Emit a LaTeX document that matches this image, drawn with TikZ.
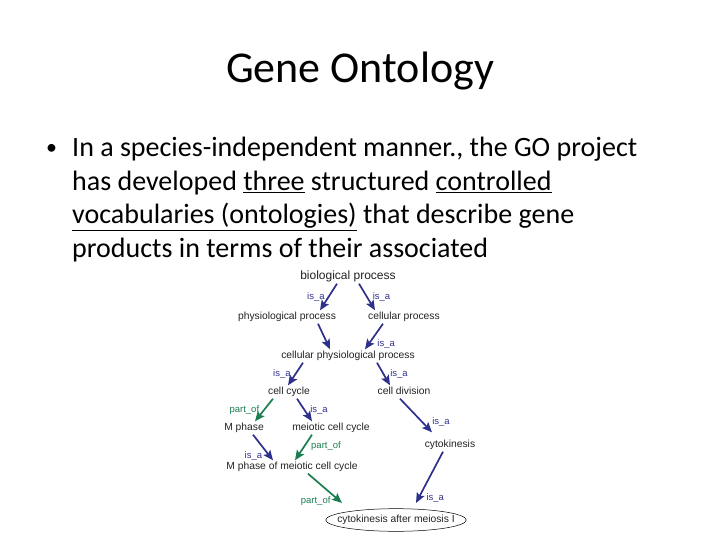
\documentclass[tikz,border=0pt]{standalone}
\usepackage{fontspec}
\setmainfont{Carlito}
\newfontfamily\arialfont{Liberation Sans}
\usetikzlibrary{arrows.meta, shapes.geometric}
\definecolor{isacol}{HTML}{2E318C}
\definecolor{partcol}{HTML}{1B7E4E}
\definecolor{termcol}{HTML}{222222}

\begin{document}
\begin{tikzpicture}[x=1pt, y=-1pt,
  term/.style={font=\arialfont\fontsize{10.3}{12}\selectfont, text=termcol,
    text height=7.5pt, text depth=2.5pt, inner sep=1.5pt},
  isa/.style={-{Stealth[length=10pt, width=8.5pt, inset=2pt]}, line width=1.7pt, draw=isacol},
  partof/.style={-{Stealth[length=10pt, width=8.5pt, inset=2pt]}, line width=1.7pt, draw=partcol},
  lbl/.style={font=\arialfont\fontsize{9.5}{11}\selectfont, inner sep=1pt},
  bullet/.style={font=\fontsize{28}{33}\selectfont, anchor=base west, inner sep=0pt},
]
\useasboundingbox (0,0) rectangle (720,540);

% Title and bullet text
\node[font=\fontsize{44}{52}\selectfont, anchor=base] (title) at (360,83) {Gene Ontology};
\node[bullet, font=\fontsize{22}{26}\selectfont] (dot) at (46,155) {•};
\node[bullet] (line1) at (72,157) {In a species-independent manner., the GO project};
\node[bullet] (line2) at (72,190.5) {has developed \underline{three} structured \underline{controlled}};
\node[bullet] (line3) at (72,224) {\underline{vocabularies (ontologies)} that describe gene};
\node[bullet] (line4) at (72,257) {products in terms of their associated};

% GO terms
\node[term, font=\arialfont\fontsize{12}{14}\selectfont, text height=9pt, text depth=3pt] (bio) at (348,276) {biological process};
\node[term] (phys) at (287,317) {physiological process};
\node[term] (cellproc) at (404,317) {cellular process};
\node[term] (cpp) at (348,356) {cellular physiological process};
\node[term] (cycle) at (289,392) {cell cycle};
\node[term] (division) at (404,392) {cell division};
\node[term] (mphase) at (244,428) {M phase};
\node[term] (meiotic) at (331,428) {meiotic cell cycle};
\node[term] (cytok) at (450,445) {cytokinesis};
\node[term] (mmeiotic) at (292,467) {M phase of meiotic cell cycle};
\node[term, draw=black, line width=0.5pt, ellipse, inner xsep=-9pt, inner ysep=3pt] (after) at (396,520) {cytokinesis after meiosis I};

% is_a / part_of links
\draw[isa] ([xshift=-11pt]bio.south) -- node[lbl, text=isacol, left=2pt] {is\_a} ([xshift=33pt]phys.north);
\draw[isa] ([xshift=11pt]bio.south) -- node[lbl, text=isacol, right=4pt] {is\_a} ([xshift=-29pt]cellproc.north);
\draw[isa] ([xshift=31pt]phys.south) -- ([xshift=-18pt]cpp.north);
\draw[isa] ([xshift=-21pt]cellproc.south) -- node[lbl, text=isacol, right=7pt, pos=0.8] {is\_a} ([xshift=17pt]cpp.north);
\draw[isa] ([xshift=-45pt]cpp.south) -- node[lbl, text=isacol, left=3pt] {is\_a} ([xshift=-1pt]cycle.north);
\draw[isa] ([xshift=29pt]cpp.south) -- node[lbl, text=isacol, right=5pt] {is\_a} ([xshift=-14pt]division.north);
\draw[partof] ([xshift=-16pt]cycle.south) -- node[lbl, text=partcol, left=3pt] {part\_of} ([xshift=11pt]mphase.north);
\draw[isa] ([xshift=8pt]cycle.south) -- node[lbl, text=isacol, right=4pt] {is\_a} ([xshift=-19pt]meiotic.north);
\draw[isa] ([xshift=-4pt]division.south) -- node[lbl, text=isacol, right=8pt, pos=0.7] {is\_a} ([xshift=-18pt,yshift=6pt]cytok.north);
\draw[isa] ([xshift=9pt]mphase.south) -- node[lbl, text=isacol, left=6pt, pos=0.85] {is\_a} ([xshift=-19pt]mmeiotic.north);
\draw[partof] ([xshift=-19pt]meiotic.south) -- node[lbl, text=partcol, right=5pt, pos=0.45] {part\_of} ([xshift=3pt]mmeiotic.north);
\draw[partof] ([xshift=16pt]mmeiotic.south) -- node[lbl, text=partcol, left=8pt, pos=0.95] {part\_of} ([xshift=-54pt,yshift=5.5pt]after.north);
\draw[isa] ([xshift=-7pt]cytok.south) -- node[lbl, text=isacol, right=6pt, pos=0.9] {is\_a} ([xshift=20pt,yshift=5.5pt]after.north);

\end{tikzpicture}
\end{document}
